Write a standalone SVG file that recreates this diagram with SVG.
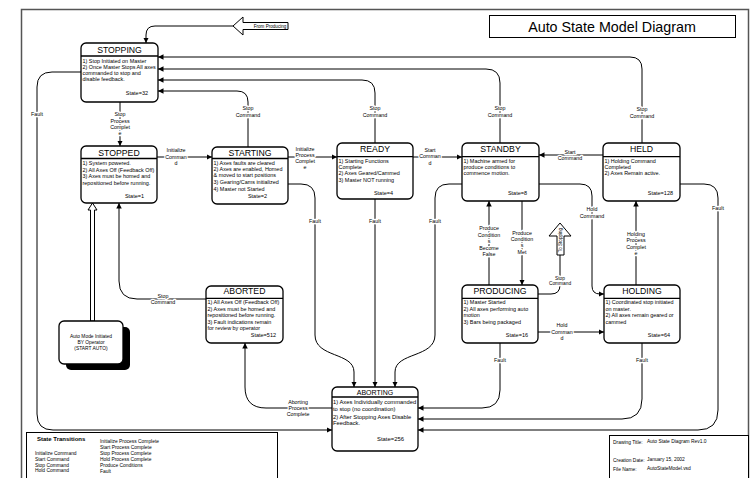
<svg xmlns="http://www.w3.org/2000/svg" width="751" height="478" viewBox="0 0 751 478">
<style>
text{font-family:"Liberation Sans",Arial,sans-serif;fill:#000}
.box{fill:#fff;stroke:#000;stroke-width:1.3}
.dv{stroke:#000;stroke-width:1.3}
.ttl{font-size:8.7px;text-anchor:middle}
.bd{font-size:5.45px}
.st{font-size:5.5px;text-anchor:end}
.lbl{font-size:5.3px;text-anchor:middle;stroke:#fff;stroke-width:2.6;stroke-linejoin:round;paint-order:stroke}
.cn{fill:none;stroke:#000;stroke-width:1;marker-end:url(#ah)}
.ln{fill:none;stroke:#000;stroke-width:1}
.sm{font-size:4.9px}
.big{fill:#fff;stroke:#000;stroke-width:1}
</style>
<defs>
<marker id="ah" viewBox="0 0 10 10" refX="10" refY="5" markerWidth="5.5" markerHeight="5.5" markerUnits="userSpaceOnUse" orient="auto"><path d="M0,0 L10,5 L0,10 z" fill="#000"/></marker>
</defs>
<rect x="0" y="0" width="751" height="478" fill="#fff"/>
<rect x="21.5" y="9.5" width="727" height="480" fill="none" stroke="#555" stroke-width="1.5"/>

<g id="title">
<rect x="489.5" y="15.5" width="246" height="22" fill="#fff" stroke="#000" stroke-width="1"/>
<text x="612" y="31.5" font-size="14.3" text-anchor="middle">Auto State Model Diagram</text>
</g>

<g id="connectors">
<path class="cn" d="M233,26 H155 Q146,26 146,35 V43"/>
<path class="cn" d="M642,143 V69 Q642,57 630,57 H158"/>
<path class="cn" d="M500,143 V83 Q500,69 486,69 H158"/>
<path class="cn" d="M375,143 V93 Q375,80 362,80 H158"/>
<path class="cn" d="M248,147 V102 Q248,91 237,91 H158"/>
<path class="cn" d="M120,102 V146"/>
<path class="cn" d="M157,157 H212"/>
<path class="cn" d="M288,157 H337"/>
<path class="cn" d="M413,157 H462"/>
<path class="cn" d="M603,155 H539"/>
<path class="cn" d="M539,184 H580 Q592,184 592,196 V286 Q592,294 600,294 H604"/>
<path class="cn" d="M680,184 H704 Q718,184 718,198 V410 Q718,430 698,430 H418"/>
<path class="cn" d="M642,343 V399 Q642,419 622,419 H418"/>
<path class="cn" d="M500,343 V390 Q500,408 482,408 H418"/>
<path class="cn" d="M81,72 H52 Q37,72 37,87 V414 Q37,430 53,430 H332"/>
<path class="cn" d="M288,184 H301 Q315,184 315,198 V335 C315,358 354,352 354,372 V387"/>
<path class="cn" d="M375,199 V387"/>
<path class="cn" d="M462,184 H449 Q435,184 435,198 V335 C435,358 395,352 395,372 V387"/>
<path class="cn" d="M332,408 H266 Q245,408 245,387 V343"/>
<path class="cn" d="M206,299 H137 Q119,299 119,281 V203"/>
<path class="cn" d="M489,285 V201"/>
<path class="cn" d="M522,201 V285"/>
<path class="ln" d="M538,294 H551 Q560,294 560,285 V255"/>
<path class="cn" d="M538,332 H604"/>
<path class="cn" d="M636,285 V201"/>
<polygon class="big" points="90.5,321 90.5,210 88,210 92.5,203 97,210 94.5,210 94.5,321"/>

<text class="lbl"><tspan x="642" y="111">Stop</tspan><tspan x="642" y="118">Command</tspan></text>
<text class="lbl"><tspan x="500" y="110">Stop</tspan><tspan x="500" y="117">Command</tspan></text>
<text class="lbl"><tspan x="375" y="110">Stop</tspan><tspan x="375" y="117">Command</tspan></text>
<text class="lbl"><tspan x="248" y="110">Stop</tspan><tspan x="248" y="117">Command</tspan></text>
<text class="lbl"><tspan x="120" y="116">Stop</tspan><tspan x="120" y="122.5">Process</tspan><tspan x="120" y="129">Complet</tspan><tspan x="120" y="135">e</tspan></text>
<text class="lbl"><tspan x="176" y="152">Initialize</tspan><tspan x="176" y="159">Comman</tspan><tspan x="176" y="165">d</tspan></text>
<text class="lbl"><tspan x="305" y="150.5">Initialize</tspan><tspan x="305" y="156.5">Process</tspan><tspan x="305" y="162.5">Complet</tspan><tspan x="305" y="168.5">e</tspan></text>
<text class="lbl"><tspan x="430" y="151.5">Start</tspan><tspan x="430" y="158">Comman</tspan><tspan x="430" y="165">d</tspan></text>
<text class="lbl"><tspan x="570" y="153.5">Start</tspan><tspan x="570" y="159.5">Command</tspan></text>
<text class="lbl"><tspan x="592" y="211">Hold</tspan><tspan x="592" y="218">Command</tspan></text>
<text class="lbl" x="718" y="210">Fault</text>
<text class="lbl" x="642" y="362">Fault</text>
<text class="lbl" x="500" y="362">Fault</text>
<text class="lbl" x="37" y="116">Fault</text>
<text class="lbl" x="315" y="223">Fault</text>
<text class="lbl" x="375" y="223">Fault</text>
<text class="lbl" x="435" y="223">Fault</text>
<text class="lbl"><tspan x="298" y="404">Aborting</tspan><tspan x="298" y="410">Process</tspan><tspan x="298" y="416">Complete</tspan></text>
<text class="lbl"><tspan x="163" y="297.5">Stop</tspan><tspan x="163" y="303.5">Command</tspan></text>
<text class="lbl"><tspan x="489" y="230">Produce</tspan><tspan x="489" y="236.5">Condition</tspan><tspan x="489" y="243">s</tspan><tspan x="489" y="249.5">Become</tspan><tspan x="489" y="256">False</tspan></text>
<text class="lbl"><tspan x="522" y="234.5">Produce</tspan><tspan x="522" y="240.5">Condition</tspan><tspan x="522" y="246.5">s</tspan><tspan x="522" y="254">Met</tspan></text>
<text class="lbl" style="font-size:4.8px"><tspan x="560" y="279.5">Stop</tspan><tspan x="560" y="285">Command</tspan></text>
<text class="lbl"><tspan x="562" y="327">Hold</tspan><tspan x="562" y="333.5">Comman</tspan><tspan x="562" y="340">d</tspan></text>
<text class="lbl"><tspan x="636" y="235.5">Holding</tspan><tspan x="636" y="242">Process</tspan><tspan x="636" y="248.5">Complet</tspan><tspan x="636" y="255">e</tspan></text>
</g>

<g id="from-producing">
<polygon class="big" points="233,26 243,17 243,22.5 288,22.5 288,29.5 243,29.5 243,35"/>
<text x="270" y="28" font-size="4.6" text-anchor="middle">From Producing</text>
</g>

<g id="to-stopping">
<polygon class="big" points="560,223 571,236 564,236 564,255 557,255 557,236 549,236"/>
<text transform="translate(562.2,240) rotate(-90)" font-size="4.6" text-anchor="middle">To Stopping</text>
</g>

<g id="stopping">
<rect class="box" x="81" y="43" width="77" height="59" rx="5"/>
<line class="dv" x1="81" y1="56" x2="158" y2="56"/>
<text class="ttl" x="119.5" y="53">STOPPING</text>
<text class="bd"><tspan x="82.5" y="63">1) Stop Initiated on Master</tspan><tspan x="82.5" y="69">2) Once Master Stops All axes</tspan><tspan x="82.5" y="75">commanded to stop and</tspan><tspan x="82.5" y="81">disable feedback.</tspan></text>
<text class="st" x="148" y="95">State=32</text>
</g>

<g id="stopped">
<rect class="box" x="81" y="146" width="76" height="57" rx="5"/>
<line class="dv" x1="81" y1="158.5" x2="157" y2="158.5"/>
<text class="ttl" x="119" y="155.5">STOPPED</text>
<text class="bd"><tspan x="82.5" y="165">1) System powered.</tspan><tspan x="82.5" y="171.5">2) All Axes Off (Feedback Off)</tspan><tspan x="82.5" y="178">3) Axes must be homed and</tspan><tspan x="82.5" y="184.5">repositioned before running.</tspan></text>
<text class="st" x="144" y="198">State=1</text>
</g>

<g id="starting">
<rect class="box" x="212" y="147" width="76" height="57" rx="5"/>
<line class="dv" x1="212" y1="158.5" x2="288" y2="158.5"/>
<text class="ttl" x="250" y="155.5">STARTING</text>
<text class="bd"><tspan x="213.5" y="165">1) Axes faults are cleared</tspan><tspan x="213.5" y="171">2) Axes are enabled, Homed</tspan><tspan x="213.5" y="177">&amp; moved to start positions</tspan><tspan x="213.5" y="184">3) Gearing/Cams initialized</tspan><tspan x="213.5" y="190.5">4) Master not Started</tspan></text>
<text class="st" x="267" y="197.5">State=2</text>
</g>

<g id="ready">
<rect class="box" x="337" y="143" width="76" height="56" rx="5"/>
<line class="dv" x1="337" y1="156.7" x2="413" y2="156.7"/>
<text class="ttl" x="375" y="152">READY</text>
<text class="bd"><tspan x="338.5" y="163">1) Starting Functions</tspan><tspan x="338.5" y="169">Complete</tspan><tspan x="338.5" y="175">2) Axes Geared/Cammed</tspan><tspan x="338.5" y="181.5">3) Master NOT running</tspan></text>
<text class="st" x="393" y="195">State=4</text>
</g>

<g id="standby">
<rect class="box" x="462" y="143" width="77" height="58" rx="5"/>
<line class="dv" x1="462" y1="156.7" x2="539" y2="156.7"/>
<text class="ttl" x="500.5" y="152">STANDBY</text>
<text class="bd"><tspan x="463.5" y="163">1) Machine armed for</tspan><tspan x="463.5" y="169">produce conditions to</tspan><tspan x="463.5" y="175">commence motion.</tspan></text>
<text class="st" x="527" y="194.5">State=8</text>
</g>

<g id="held">
<rect class="box" x="603" y="143" width="77" height="58" rx="5"/>
<line class="dv" x1="603" y1="156.7" x2="680" y2="156.7"/>
<text class="ttl" x="641.5" y="152">HELD</text>
<text class="bd"><tspan x="604.5" y="163">1) Holding Command</tspan><tspan x="604.5" y="169">Completed</tspan><tspan x="604.5" y="175">2) Axes Remain active.</tspan></text>
<text class="st" x="673" y="194.5">State=128</text>
</g>

<g id="producing">
<rect class="box" x="462" y="285" width="76" height="58" rx="5"/>
<line class="dv" x1="462" y1="298.3" x2="538" y2="298.3"/>
<text class="ttl" x="500" y="294">PRODUCING</text>
<text class="bd"><tspan x="463.5" y="304">1) Master Started</tspan><tspan x="463.5" y="310.5">2) All axes performing auto</tspan><tspan x="463.5" y="316.5">motion</tspan><tspan x="463.5" y="323.5">3) Bars being packaged</tspan></text>
<text class="st" x="528" y="337">State=16</text>
</g>

<g id="holding">
<rect class="box" x="604" y="285" width="76" height="58" rx="5"/>
<line class="dv" x1="604" y1="298.3" x2="680" y2="298.3"/>
<text class="ttl" x="642" y="294">HOLDING</text>
<text class="bd"><tspan x="605.5" y="304">1) Coordinated stop initiated</tspan><tspan x="605.5" y="310.5">on master.</tspan><tspan x="605.5" y="316.5">2) All axes remain geared or</tspan><tspan x="605.5" y="323.5">cammed</tspan></text>
<text class="st" x="670" y="337">State=64</text>
</g>

<g id="aborted">
<rect class="box" x="206" y="286" width="77" height="57" rx="5"/>
<line class="dv" x1="206" y1="298.3" x2="283" y2="298.3"/>
<text class="ttl" x="244.5" y="294">ABORTED</text>
<text class="bd"><tspan x="207.5" y="304">1) All Axes Off (Feedback Off)</tspan><tspan x="207.5" y="310.5">2) Axes must be homed and</tspan><tspan x="207.5" y="316.7">repositioned before running.</tspan><tspan x="207.5" y="323.5">3) Fault indications remain</tspan><tspan x="207.5" y="330">for review by operator</tspan></text>
<text class="st" x="276" y="336.5">State=512</text>
</g>

<g id="aborting">
<rect class="box" x="332" y="387" width="86" height="64" rx="5"/>
<line class="dv" x1="332" y1="397" x2="418" y2="397"/>
<text class="ttl" x="375" y="394.5" style="font-size:7px">ABORTING</text>
<text class="bd" style="font-size:5.8px"><tspan x="333" y="404">1) Axes Individually commanded</tspan><tspan x="333" y="411">to stop (no coordination)</tspan><tspan x="333" y="418.5">2) After Stopping Axes Disable</tspan><tspan x="333" y="425">Feedback.</tspan></text>
<text class="st" x="404" y="440.5" style="font-size:5.9px">State=256</text>
</g>

<g id="auto-mode">
<rect x="66" y="327" width="64" height="43" rx="5" fill="#000"/>
<rect class="box" x="59" y="321" width="64" height="43" rx="5"/>
<text class="sm" text-anchor="middle"><tspan x="91" y="338">Auto Mode Initiated</tspan><tspan x="91" y="344">BY Operator</tspan><tspan x="91" y="350">(START AUTO)</tspan></text>
</g>

<g id="legend">
<rect x="26.5" y="432.5" width="251" height="60" fill="#fff" stroke="#000" stroke-width="1"/>
<text x="37" y="441" font-size="6" font-weight="bold">State Transitions</text>
<text class="sm"><tspan x="35" y="455">Initialize Command</tspan><tspan x="35" y="460.5">Start Command</tspan><tspan x="35" y="466.5">Stop Command</tspan><tspan x="35" y="471.5">Hold Command</tspan></text>
<text class="sm"><tspan x="100" y="443">Initialize Process Complete</tspan><tspan x="100" y="449">Start Process Complete</tspan><tspan x="100" y="455">Stop Process Complete</tspan><tspan x="100" y="461">Hold Process Complete</tspan><tspan x="100" y="467">Produce Conditions</tspan><tspan x="100" y="472.5">Fault</tspan></text>
</g>

<g id="title-block">
<rect x="609.5" y="435.5" width="139" height="60" fill="#fff" stroke="#000" stroke-width="1"/>
<text class="sm"><tspan x="613" y="443.5">Drawing Title:</tspan><tspan x="613" y="462">Creation Date:</tspan><tspan x="613" y="471">File Name:</tspan></text>
<text class="sm"><tspan x="647" y="442.5">Auto State Diagram Rev1.0</tspan><tspan x="647" y="461">January 15, 2002</tspan><tspan x="647" y="469.5">AutoStateModel.vsd</tspan></text>
</g>
</svg>
